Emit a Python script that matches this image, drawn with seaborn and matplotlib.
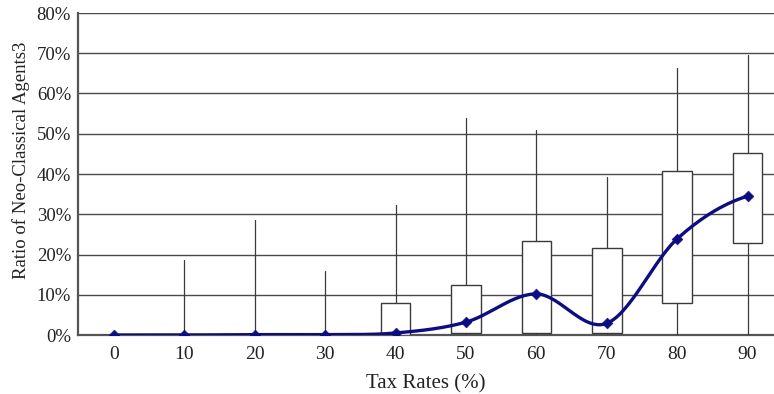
import numpy as np
import pandas as pd
import matplotlib
matplotlib.use("Agg")
import matplotlib.pyplot as plt
import seaborn as sns
from matplotlib.ticker import FuncFormatter

# ---- data (percent) ----
tax_rates = [0, 10, 20, 30, 40, 50, 60, 70, 80, 90]
whisk_lo = [0, 0, 0, 0, 0, 0, 0, 0, 0, 0]
q1 = [0, 0, 0, 0, 0.1, 0.4, 0.4, 0.6, 8.0, 22.8]
medians = [0, 0, 0.1, 0.1, 0.5, 3.2, 10.2, 2.9, 23.9, 34.5]
q3 = [0, 0, 0.35, 0.35, 8.0, 12.4, 23.4, 21.6, 40.8, 45.2]
whisk_hi = [0, 18.6, 28.5, 16.0, 32.3, 54.0, 51.0, 39.3, 66.3, 69.6]
y_ticks = [0, 10, 20, 30, 40, 50, 60, 70, 80]

sns.set_theme(style="white")
plt.rcParams["font.family"] = ["Liberation Serif", "DejaVu Serif"]

fig = plt.figure(figsize=(7.74, 3.94), dpi=100)
ax = fig.add_axes([78 / 774, 1 - 335 / 394, 1 - 78 / 774, (335 - 13) / 394])

pos = np.arange(len(tax_rates))
stats = []
for i in range(len(tax_rates)):
    stats.append(dict(med=medians[i], q1=q1[i], q3=q3[i],
                      whislo=whisk_lo[i], whishi=whisk_hi[i], fliers=[]))
ax.bxp(stats, positions=pos, widths=0.42, showfliers=False, showcaps=False,
       patch_artist=True,
       boxprops=dict(facecolor="white", edgecolor="#3a3a3a", linewidth=1.0),
       whiskerprops=dict(color="#3a3a3a", linewidth=0.9),
       medianprops=dict(linewidth=0, color="none"),
       manage_ticks=False, zorder=3)

# smooth (Catmull-Rom) line through medians
def catmull_rom(x, y, n=30):
    x = np.asarray(x, float); y = np.asarray(y, float)
    px = np.concatenate([[2 * x[0] - x[1]], x, [2 * x[-1] - x[-2]]])
    py = np.concatenate([[y[0]], y, [y[-1]]])
    xs, ys = [], []
    for i in range(1, len(px) - 2):
        t = np.linspace(0, 1, n, endpoint=False)
        for arr, out in ((px, xs), (py, ys)):
            p0, p1, p2, p3 = arr[i - 1], arr[i], arr[i + 1], arr[i + 2]
            out.extend(0.5 * ((2 * p1) + (-p0 + p2) * t +
                              (2 * p0 - 5 * p1 + 4 * p2 - p3) * t ** 2 +
                              (-p0 + 3 * p1 - 3 * p2 + p3) * t ** 3))
    xs.append(x[-1]); ys.append(y[-1])
    return np.array(xs), np.array(ys)

sx, sy = catmull_rom(pos, medians)
line_color = "#0d0d82"
smooth = pd.DataFrame({"x": sx, "y": sy})
sns.lineplot(data=smooth, x="x", y="y", sort=False, estimator=None,
             color=line_color, linewidth=2.4, ax=ax, zorder=5)
pts = pd.DataFrame({"x": pos, "y": medians})
sns.scatterplot(data=pts, x="x", y="y", marker="D", s=30, color=line_color,
                edgecolor=line_color, ax=ax, zorder=6)

ax.set_xlim(-0.51, 9.375)
ax.set_ylim(0, 80)
ax.set_yticks(y_ticks)
ax.yaxis.set_major_formatter(FuncFormatter(lambda v, p: f"{v:.0f}%"))
ax.set_xticks(pos)
ax.set_xticklabels([str(t) for t in tax_rates])
ax.set_xticks(pos[:-1] + 0.5, minor=True)
ax.tick_params(axis="x", which="major", length=0, labelsize=14, pad=8, colors="#222")
ax.tick_params(axis="x", which="minor", direction="in", length=4, width=0.9, color="#555")
ax.tick_params(axis="y", length=0, labelsize=13.5, pad=5, colors="#222")
ax.yaxis.grid(True, color="#4a4a4a", linewidth=1.0, zorder=0)
ax.xaxis.grid(False)
ax.set_axisbelow(True)
for s in ["top", "right"]:
    ax.spines[s].set_visible(False)
for s in ["left", "bottom"]:
    ax.spines[s].set_color("#555")
    ax.spines[s].set_linewidth(1.6)
ax.set_xlabel("Tax Rates (%)", fontsize=15, color="#222", labelpad=8)
ax.set_ylabel("Ratio of Neo-Classical Agents3", fontsize=13.5, color="#222")
ax.yaxis.set_label_coords(-0.069, 0.543)

fig.savefig("out.png", dpi=100)
